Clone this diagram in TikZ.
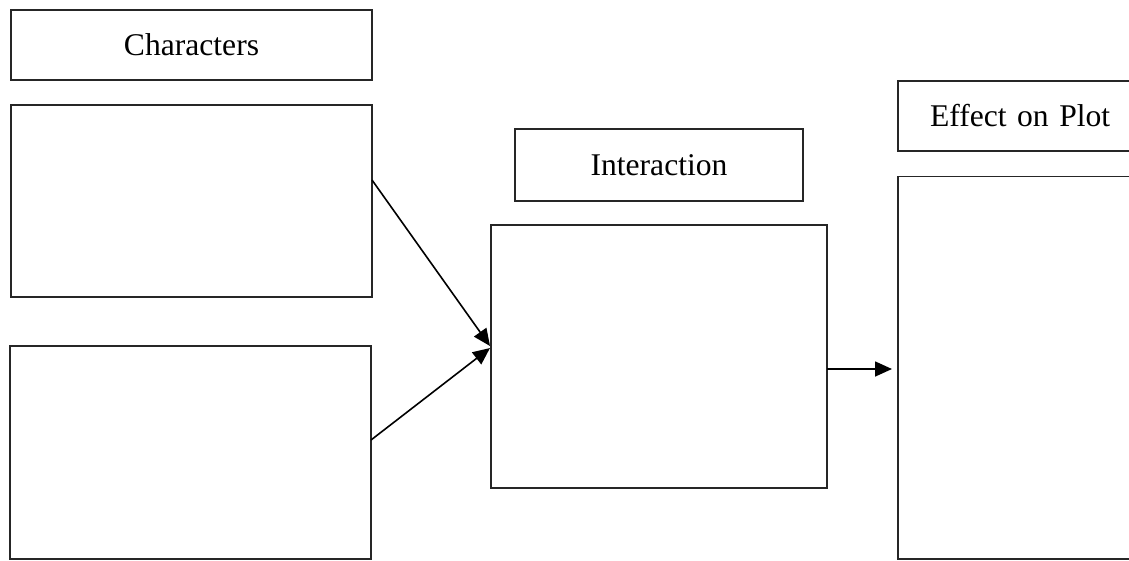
\documentclass[tikz,border=0pt]{standalone}
\usepackage{fontspec}
\setmainfont{Liberation Serif}
\usetikzlibrary{arrows.meta}
\begin{document}
\begin{tikzpicture}[x=1pt,y=-1pt,
  box/.style={draw=black!85,line width=1.5pt,rectangle,inner sep=0pt,outer sep=0pt,font=\fontsize{31.6}{36}\selectfont},
  conn/.style={line width=1.6pt,-{Triangle[length=17pt,width=15pt]}}]
\useasboundingbox (0,0) rectangle (1129,560);
\clip (0,0) rectangle (1129,560);
\node[box,minimum width=361pt,minimum height=70pt] (C1) at (191.5,45) {Characters};
\node[box,minimum width=361pt,minimum height=192pt] (A) at (191.5,201) {};
\node[box,minimum width=361pt,minimum height=213pt] (B) at (190.5,452.5) {};
\node[box,minimum width=288pt,minimum height=72pt] (I1) at (659,165) {Interaction};
\node[box,minimum width=336pt,minimum height=263pt] (I2) at (659,356.5) {};
\node[box,minimum height=70pt,inner xsep=32pt,text width=288pt,align=left,anchor=west] (E1) at (898,116) {Effect on Plot};
\node[box,minimum width=352pt,minimum height=382.5pt,anchor=west] (E2) at (898,367.75) {};
\coordinate (t1) at ([yshift=10.5pt,xshift=-1pt]I2.west);
\coordinate (t2) at ([yshift=8.5pt,xshift=-1pt]I2.west);
\draw[conn] ([yshift=21pt]A.east) -- (t1);
\draw[conn] ([yshift=12.5pt]B.east) -- (t2);
\coordinate (s3) at ([yshift=-12.5pt]I2.east);
\coordinate (t3) at ([xshift=-6pt]E2.west |- s3);
\draw[conn] (s3) -- (t3);
\end{tikzpicture}
\end{document}
